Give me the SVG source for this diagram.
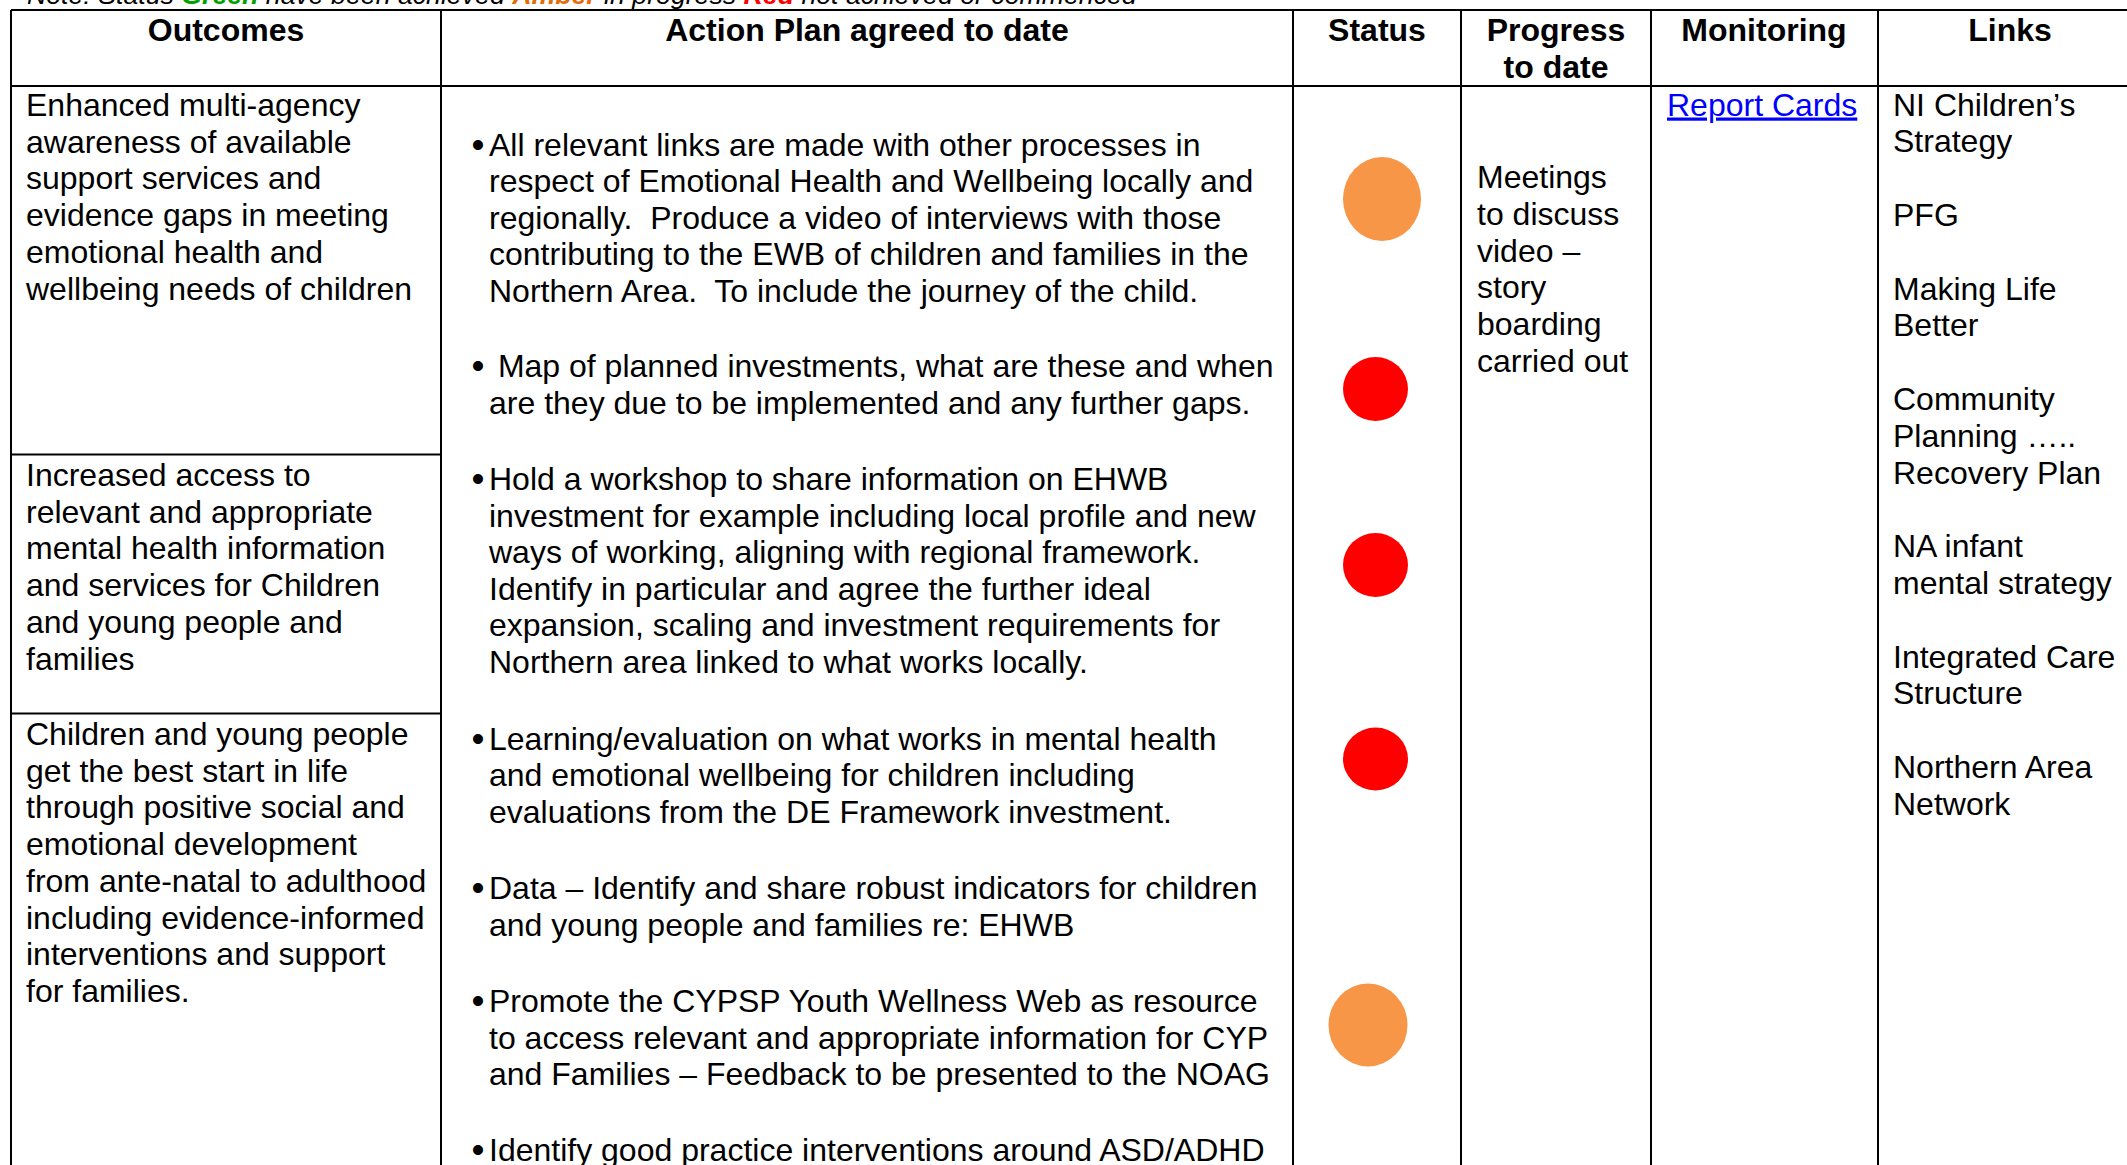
<svg xmlns="http://www.w3.org/2000/svg" width="2127" height="1165" viewBox="0 0 2127 1165">
<style>
text{font-family:"Liberation Sans",Arial,sans-serif;font-size:32px;fill:#000;white-space:pre}
.h{font-weight:bold;text-anchor:middle}
.note{font-style:italic;font-size:26.7px}
.b{text-anchor:middle;font-size:37px}
.grid line{stroke:#000;stroke-width:2}
.amber{fill:#F79646}
.red{fill:#FF0000}
.link{fill:#0000FF;text-decoration:underline}
</style>
<rect width="2127" height="1165" fill="#fff"/>
<g id="note">
<text class="note" x="27" y="3.5">Note: Status <tspan font-weight="bold" fill="#00A000">Green</tspan> have been achieved <tspan font-weight="bold" fill="#E36C0A">Amber</tspan> in progress <tspan font-weight="bold" fill="#FF0000">Red</tspan> not achieved or commenced</text>
</g>
<g class="grid" id="grid">
<line x1="11" y1="10" x2="2127" y2="10"/>
<line x1="11" y1="86" x2="2127" y2="86"/>
<line x1="11" y1="10" x2="11" y2="1165"/>
<line x1="441" y1="10" x2="441" y2="1165"/>
<line x1="1293" y1="10" x2="1293" y2="1165"/>
<line x1="1461" y1="10" x2="1461" y2="1165"/>
<line x1="1651" y1="10" x2="1651" y2="1165"/>
<line x1="1878" y1="10" x2="1878" y2="1165"/>
<line x1="11" y1="454.5" x2="441" y2="454.5"/>
<line x1="11" y1="713.5" x2="441" y2="713.5"/>
</g>
<g id="headers">
<text class="h" x="226" y="41">Outcomes</text>
<text class="h" x="867" y="41">Action Plan agreed to date</text>
<text class="h" x="1377" y="41">Status</text>
<text class="h" x="1556" y="41">Progress</text>
<text class="h" x="1556" y="78">to date</text>
<text class="h" x="1764" y="41">Monitoring</text>
<text class="h" x="2010" y="41">Links</text>
</g>
<g id="outcome-1">
<text x="26" y="116">Enhanced multi-agency</text>
<text x="26" y="152.7">awareness of available</text>
<text x="26" y="189.4">support services and</text>
<text x="26" y="226.1">evidence gaps in meeting</text>
<text x="26" y="262.8">emotional health and</text>
<text x="26" y="299.5">wellbeing needs of children</text>
</g>
<g id="outcome-2">
<text x="26" y="486">Increased access to</text>
<text x="26" y="522.7">relevant and appropriate</text>
<text x="26" y="559.4">mental health information</text>
<text x="26" y="596.1">and services for Children</text>
<text x="26" y="632.8">and young people and</text>
<text x="26" y="669.5">families</text>
</g>
<g id="outcome-3">
<text x="26" y="745">Children and young people</text>
<text x="26" y="781.7">get the best start in life</text>
<text x="26" y="818.4">through positive social and</text>
<text x="26" y="855.1">emotional development</text>
<text x="26" y="891.8">from ante-natal to adulthood</text>
<text x="26" y="928.5">including evidence-informed</text>
<text x="26" y="965.2">interventions and support</text>
<text x="26" y="1001.9">for families.</text>
</g>
<g id="action-plan">
<g id="action-1">
<text class="b" x="478" y="156.5">•</text>
<text x="489" y="155.5">All relevant links are made with other processes in</text>
<text x="489" y="192">respect of Emotional Health and Wellbeing locally and</text>
<text x="489" y="228.5">regionally.  Produce a video of interviews with those</text>
<text x="489" y="265">contributing to the EWB of children and families in the</text>
<text x="489" y="301.5">Northern Area.  To include the journey of the child.</text>
</g>
<g id="action-2">
<text class="b" x="478" y="378">•</text>
<text x="489" y="377"> Map of planned investments, what are these and when</text>
<text x="489" y="413.5">are they due to be implemented and any further gaps.</text>
</g>
<g id="action-3">
<text class="b" x="478" y="491">•</text>
<text x="489" y="490">Hold a workshop to share information on EHWB</text>
<text x="489" y="526.5">investment for example including local profile and new</text>
<text x="489" y="563">ways of working, aligning with regional framework.</text>
<text x="489" y="599.5">Identify in particular and agree the further ideal</text>
<text x="489" y="636">expansion, scaling and investment requirements for</text>
<text x="489" y="672.5">Northern area linked to what works locally.</text>
</g>
<g id="action-4">
<text class="b" x="478" y="750.5">•</text>
<text x="489" y="749.5">Learning/evaluation on what works in mental health</text>
<text x="489" y="786">and emotional wellbeing for children including</text>
<text x="489" y="822.5">evaluations from the DE Framework investment.</text>
</g>
<g id="action-5">
<text class="b" x="478" y="900">•</text>
<text x="489" y="899">Data – Identify and share robust indicators for children</text>
<text x="489" y="935.5">and young people and families re: EHWB</text>
</g>
<g id="action-6">
<text class="b" x="478" y="1013">•</text>
<text x="489" y="1012">Promote the CYPSP Youth Wellness Web as resource</text>
<text x="489" y="1048.5">to access relevant and appropriate information for CYP</text>
<text x="489" y="1085">and Families – Feedback to be presented to the NOAG</text>
</g>
<g id="action-7">
<text class="b" x="478" y="1162">•</text>
<text x="489" y="1161">Identify good practice interventions around ASD/ADHD</text>
</g>
</g>
<g id="status">
<ellipse class="amber" cx="1382" cy="199" rx="39" ry="42"/>
<ellipse class="red" cx="1375.5" cy="389" rx="32.5" ry="32"/>
<ellipse class="red" cx="1375.5" cy="565" rx="32.5" ry="32"/>
<ellipse class="red" cx="1375.5" cy="759" rx="32.5" ry="31.5"/>
<ellipse class="amber" cx="1368" cy="1025" rx="39.5" ry="41.5"/>
</g>
<g id="progress">
<text x="1477" y="188">Meetings</text>
<text x="1477" y="224.8">to discuss</text>
<text x="1477" y="261.6">video –</text>
<text x="1477" y="298.4">story</text>
<text x="1477" y="335.2">boarding</text>
<text x="1477" y="372">carried out</text>
</g>
<g id="monitoring">
<text class="link" x="1667" y="115.5">Report Cards</text>
</g>
<g id="links">
<text x="1893" y="115.5">NI Children’s</text>
<text x="1893" y="152.3">Strategy</text>
<text x="1893" y="225.9">PFG</text>
<text x="1893" y="299.5">Making Life</text>
<text x="1893" y="336.3">Better</text>
<text x="1893" y="409.9">Community</text>
<text x="1893" y="446.7">Planning …..</text>
<text x="1893" y="483.5">Recovery Plan</text>
<text x="1893" y="557.1">NA infant</text>
<text x="1893" y="593.9">mental strategy</text>
<text x="1893" y="667.5">Integrated Care</text>
<text x="1893" y="704.3">Structure</text>
<text x="1893" y="777.9">Northern Area</text>
<text x="1893" y="814.7">Network</text>
</g>
</svg>
